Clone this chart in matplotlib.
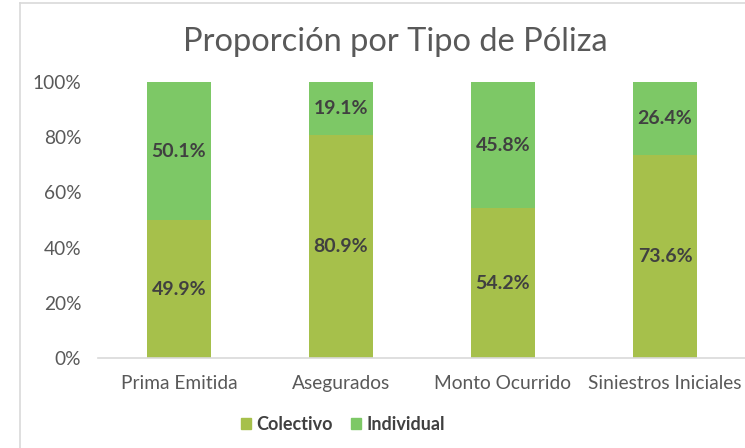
import matplotlib
matplotlib.use("Agg")
import matplotlib.pyplot as plt
from matplotlib.lines import Line2D
from matplotlib.patches import Patch
import numpy as np

categories = ["Prima Emitida", "Asegurados", "Monto Ocurrido", "Siniestros Iniciales"]
colectivo = [49.9, 80.9, 54.2, 73.6]
individual = [50.1, 19.1, 45.8, 26.4]
yticks = [0, 20, 40, 60, 80, 100]

c_col = "#A6C04B"
c_ind = "#7DC866"
txt = "#595959"
lbl = "#404040"

plt.rcParams['font.family'] = ['Lato', 'DejaVu Sans']

W, H = 745, 448
fig = plt.figure(figsize=(W/100, H/100), dpi=100)
ax = fig.add_axes([98/W, 1-358/H, (746-98)/W, (358-82)/H])

x = np.arange(len(categories))
bw = 0.395
ax.bar(x, colectivo, bw, color=c_col, label="Colectivo")
ax.bar(x, individual, bw, bottom=colectivo, color=c_ind, label="Individual")

for i in range(len(categories)):
    ax.text(x[i], colectivo[i]/2, f"{colectivo[i]:.1f}%", ha="center", va="center",
            fontsize=14, fontweight="bold", color=lbl)
    ax.text(x[i], colectivo[i] + individual[i]/2, f"{individual[i]:.1f}%", ha="center", va="center",
            fontsize=14, fontweight="bold", color=lbl)

ax.set_xlim(-0.5, len(categories)-0.5)
ax.set_ylim(0, 100)
ax.set_yticks(yticks)
ax.set_yticklabels([f"{v}%" for v in yticks])
ax.set_xticks(x)
ax.set_xticklabels(categories)
ax.tick_params(axis="both", length=0, labelsize=13.8, labelcolor=txt)
ax.tick_params(axis="y", pad=12)
ax.tick_params(axis="x", pad=12)
for s in ["top", "right", "left"]:
    ax.spines[s].set_visible(False)
ax.spines["bottom"].set_color("#D9D9D9")
ax.spines["bottom"].set_linewidth(1.2)

fig.text(395/W, 1-42/H, "Proporción por Tipo de Póliza", ha="center", va="center",
         fontsize=23.5, color=txt, fontweight="normal")

handles = [Patch(color=c_col), Patch(color=c_ind)]
leg = fig.legend(handles, ["Colectivo", "Individual"], loc="center", bbox_to_anchor=(343/W, 1-424/H),
                 ncol=2, frameon=False, handlelength=0.55, handleheight=0.55, handletextpad=0.3,
                 columnspacing=1.0, prop={"size": 13, "weight": "bold"})
for t in leg.get_texts():
    t.set_color(lbl)

fig.add_artist(Line2D([20/W, 20/W], [0, 1-3/H], transform=fig.transFigure, color="#D9D9D9", lw=1.2))
fig.add_artist(Line2D([20/W, 1], [1-3/H, 1-3/H], transform=fig.transFigure, color="#D9D9D9", lw=1.2))

fig.savefig("out.png", dpi=100, facecolor="white")
